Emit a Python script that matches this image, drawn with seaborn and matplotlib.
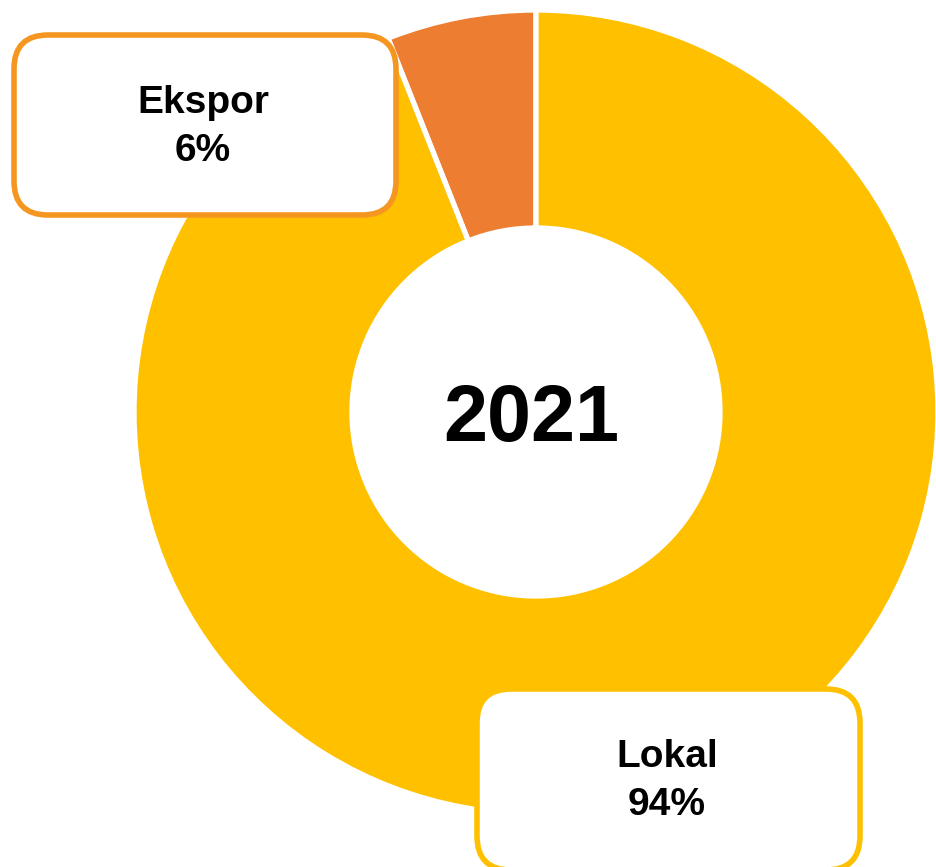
import matplotlib
matplotlib.use("Agg")
import matplotlib.pyplot as plt
from matplotlib.patches import FancyBboxPatch
import seaborn as sns

categories = ["Ekspor", "Lokal"]
shares = [6, 94]
labels = ["Ekspor\n6%", "Lokal\n94%"]
colors = ["#ED7D31", "#FFC000"]
box_edges = ["#F4961F", "#FFC000"]
center_label = "2021"

sns.set_theme(style="white")
plt.rcParams["font.family"] = ["Liberation Sans", "DejaVu Sans"]

W, H = 936, 867
fig = plt.figure(figsize=(W / 100, H / 100), dpi=100)
ax = fig.add_axes([0, 0, 1, 1])
ax.set_xlim(0, W)
ax.set_ylim(0, H)
ax.axis("off")

def py(y):
    return H - y

cx, cy = 536, py(412)
R_out, R_in = 402, 184

ax.pie(shares, colors=colors, startangle=90, counterclock=True,
       center=(cx, cy), radius=R_out,
       wedgeprops=dict(width=R_out - R_in, edgecolor="white", linewidth=3.8))
ax.set_xlim(0, W)
ax.set_ylim(0, H)
ax.set_aspect("auto")

ax.text(cx - 5, py(420), center_label, ha="center", va="center",
        fontsize=57, fontweight="bold", color="black")

# label boxes (x0, y0_top, x1, y1_bottom) in pixel coords
boxes = [(14, 35, 396, 215), (477, 689, 860, 870)]
text_pos = [(203, 127), (667, 781)]
for (x0, y0, x1, y1), (tx, ty), lab, ec in zip(boxes, text_pos, labels, box_edges):
    patch = FancyBboxPatch((x0, py(y1)), x1 - x0, y1 - y0,
                           boxstyle="round,pad=0,rounding_size=34",
                           facecolor="white", edgecolor=ec, linewidth=4,
                           zorder=5)
    ax.add_patch(patch)
    ax.text(tx, py(ty), lab, ha="center", va="center", fontsize=28,
            fontweight="bold", color="black", linespacing=1.42, zorder=6)

fig.savefig("out.png", dpi=100, facecolor="white")
